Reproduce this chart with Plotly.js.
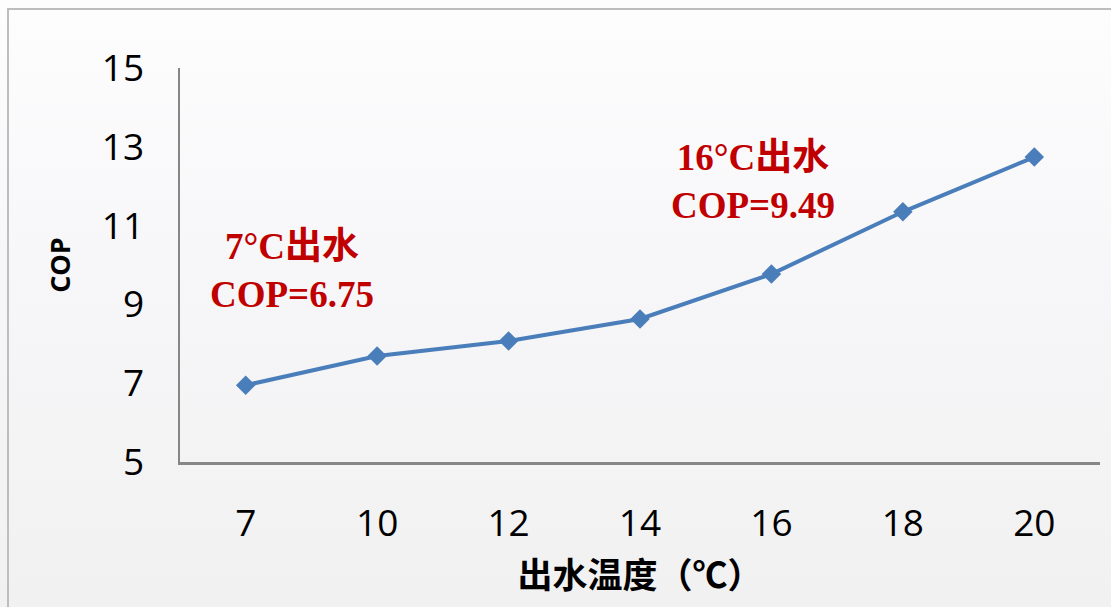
<!DOCTYPE html>
<html>
<head>
<meta charset="utf-8">
<script src="https://cdn.plot.ly/plotly-3.0.1.min.js"></script>
<style>
html,body{margin:0;padding:0;width:1111px;height:607px;overflow:hidden;}
body{background:linear-gradient(to bottom,#fdfdfe 0%,#f6f6f8 50%,#f1f1f1 100%);}
#frame{position:absolute;left:7px;top:8px;width:1120px;height:620px;border-top:2px solid #bdbdbd;border-left:2px solid #bdbdbd;box-sizing:border-box;}
#chart{position:absolute;left:0;top:0;width:1111px;height:607px;}
</style>
</head>
<body>
<div id="frame"></div>
<div id="chart"></div>
<script>
var categories = ['7','10','12','14','16','18','20'];
var copValues = [6.95, 7.69, 8.07, 8.63, 9.77, 11.35, 12.74];
var yTicks = [5, 7, 9, 11, 13, 15];
var xTitle = '出水温度（℃）';
var yTitle = 'COP';
var note7 = '7°C出水<br>COP=6.75';
var note16 = '16°C出水<br>COP=9.49';

var trace = {
  x: categories,
  y: copValues,
  type: 'scatter',
  mode: 'lines+markers',
  line: {color: '#4a7ebb', width: 4},
  marker: {symbol: 'diamond', size: 15, color: '#4a7ebb'},
  hoverinfo: 'skip'
};

var layout = {
  width: 1111, height: 607,
  paper_bgcolor: 'rgba(0,0,0,0)',
  plot_bgcolor: 'rgba(0,0,0,0)',
  margin: {l: 180, r: 11, t: 68, b: 145},
  showlegend: false,
  font: {family: '"Open Sans", "Noto Sans CJK SC", sans-serif', color: '#000'},
  xaxis: {
    type: 'category',
    range: [-0.5, 6.5],
    showgrid: false, zeroline: false,
    showline: true, linecolor: '#868686', linewidth: 2.5,
    ticks: 'outside', ticklen: 27, tickcolor: 'rgba(0,0,0,0)',
    tickfont: {size: 37, family: '"Open Sans", sans-serif', color: '#000'},
    title: {text: xTitle, standoff: 4, font: {size: 35, family: '"Noto Sans CJK SC", sans-serif', weight: 'bold', color: '#000'}}
  },
  yaxis: {
    range: [5, 15],
    tickvals: yTicks,
    showgrid: false, zeroline: false,
    showline: true, linecolor: '#868686', linewidth: 2.5,
    ticks: 'outside', ticklen: 26, tickcolor: 'rgba(0,0,0,0)',
    tickfont: {size: 37, family: '"Open Sans", sans-serif', color: '#000'},
    title: {text: yTitle, standoff: 24, font: {size: 27, family: '"Open Sans", sans-serif', weight: 'bold', color: '#000'}}
  },
  annotations: [
    {xref: 'paper', yref: 'paper', x: 0.1217, y: 0.487, xanchor: 'center', yanchor: 'middle',
     text: note7, showarrow: false, align: 'center',
     font: {size: 37, family: '"Liberation Serif", "Noto Sans CJK SC", serif', weight: 'bold', color: '#c00000'}},
    {xref: 'paper', yref: 'paper', x: 0.623, y: 0.713, xanchor: 'center', yanchor: 'middle',
     text: note16, showarrow: false, align: 'center',
     font: {size: 37, family: '"Liberation Serif", "Noto Sans CJK SC", serif', weight: 'bold', color: '#c00000'}}
  ]
};

Plotly.newPlot('chart', [trace], layout, {staticPlot: true, displayModeBar: false});
</script>
</body>
</html>
